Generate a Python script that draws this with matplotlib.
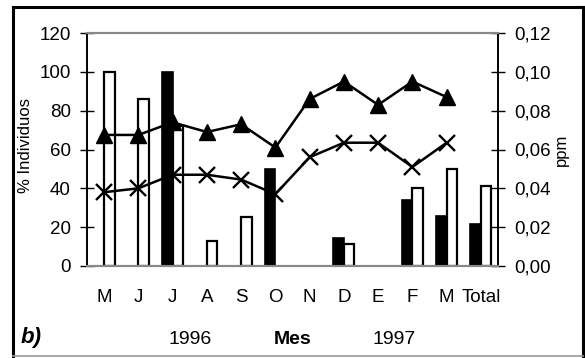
import matplotlib
matplotlib.use('Agg')
import matplotlib.pyplot as plt
import numpy as np
from matplotlib.lines import Line2D

plt.rcParams['font.family'] = ['Liberation Sans', 'DejaVu Sans']

# data
months = ['M', 'J', 'J', 'A', 'S', 'O', 'N', 'D', 'E', 'F', 'M', 'Total']
black_bars = [0, 0, 100, 0, 0, 50, 0, 14.5, 0, 34, 25.5, 21.5]
white_bars = [100, 86, 72, 13, 25, 0, 0, 11.5, 0, 40, 50, 41]
ppm_triangle = [0.0675, 0.0675, 0.074, 0.069, 0.073, 0.061, 0.086, 0.095, 0.083, 0.095, 0.087]
ppm_cross = [0.038, 0.040, 0.047, 0.047, 0.0445, 0.037, 0.056, 0.0635, 0.0635, 0.051, 0.0635]
left_ticks = [0, 20, 40, 60, 80, 100, 120]
right_ticks = [0.0, 0.02, 0.04, 0.06, 0.08, 0.10, 0.12]

W, H = 585, 358
fig = plt.figure(figsize=(W / 100, H / 100), dpi=100)
ax = fig.add_axes([87 / W, 1 - 266 / H, (498 - 87) / W, (266 - 33) / H])
ax2 = ax.twinx()

x = np.arange(len(months))
w = 0.31
# skip empty bars so no edge line sits on the axis
bx = [i for i, v in enumerate(black_bars) if v > 0]
wx = [i for i, v in enumerate(white_bars) if v > 0]
ax.bar(np.array(bx) - w / 2, [black_bars[i] for i in bx], width=w,
       color='black', edgecolor='black', linewidth=1.2)
ax.bar(np.array(wx) + w / 2, [white_bars[i] for i in wx], width=w,
       color='white', edgecolor='black', linewidth=1.6)

n = len(ppm_triangle)
ax2.plot(x[:n], ppm_triangle, color='black', linewidth=1.8, marker='^', markersize=11.5)
ax2.plot(x[:n], ppm_cross, color='black', linewidth=1.8, marker='x', markersize=12,
         markeredgewidth=1.7)

ax.set_xlim(-0.5, len(months) - 0.5)
ax.set_ylim(0, 120)
ax2.set_ylim(0, 0.12)
ax.set_yticks(left_ticks)
ax2.set_yticks(right_ticks)
ax2.set_yticklabels([f'{t:.2f}'.replace('.', ',') for t in right_ticks])
ax.set_xticks(x)
ax.set_xticklabels(months)

ax.tick_params(axis='y', direction='inout', length=9.5, width=1, pad=7, labelsize=13.5)
ax2.tick_params(axis='y', direction='inout', length=9.5, width=1, pad=7, labelsize=13.5)
ax.tick_params(axis='x', length=0, pad=16.5, labelsize=13.5)

for a in (ax, ax2):
    a.spines['top'].set_color('#888888')
    a.spines['bottom'].set_color('#888888')
    a.spines['top'].set_linewidth(1.5)
    a.spines['bottom'].set_linewidth(1.5)
    a.spines['left'].set_linewidth(1.2)
    a.spines['right'].set_linewidth(1.2)

fig.text(26 / W, 1 - 145 / H, '% Individuos', fontsize=12, rotation=90,
         ha='center', va='center')
fig.text(561 / W, 1 - 150 / H, 'ppm', fontsize=12, rotation=90,
         ha='center', va='center')

fig.text(31 / W, 1 - 337 / H, 'b)', fontsize=16, fontweight='bold', fontstyle='italic',
         ha='center', va='center')
fig.text(190 / W, 1 - 339.5 / H, '1996', fontsize=14, ha='center', va='center')
fig.text(293 / W, 1 - 339.5 / H, 'Mes', fontsize=14, fontweight='bold', ha='center', va='center')
fig.text(394 / W, 1 - 339.5 / H, '1997', fontsize=14, ha='center', va='center')

# outer frame
l, r, t, b = 13 / W, 583 / W, 1 - 7 / H, 1 - 356 / H
fig.add_artist(Line2D([l, l], [t, b], color='black', linewidth=2.2, transform=fig.transFigure))
fig.add_artist(Line2D([l, r], [t, t], color='black', linewidth=2.2, transform=fig.transFigure))
fig.add_artist(Line2D([r, r], [t, b], color='black', linewidth=2.2, transform=fig.transFigure))
fig.add_artist(Line2D([l, r], [b, b], color='#999999', linewidth=1.2, transform=fig.transFigure))

fig.savefig('out.png', dpi=100)
